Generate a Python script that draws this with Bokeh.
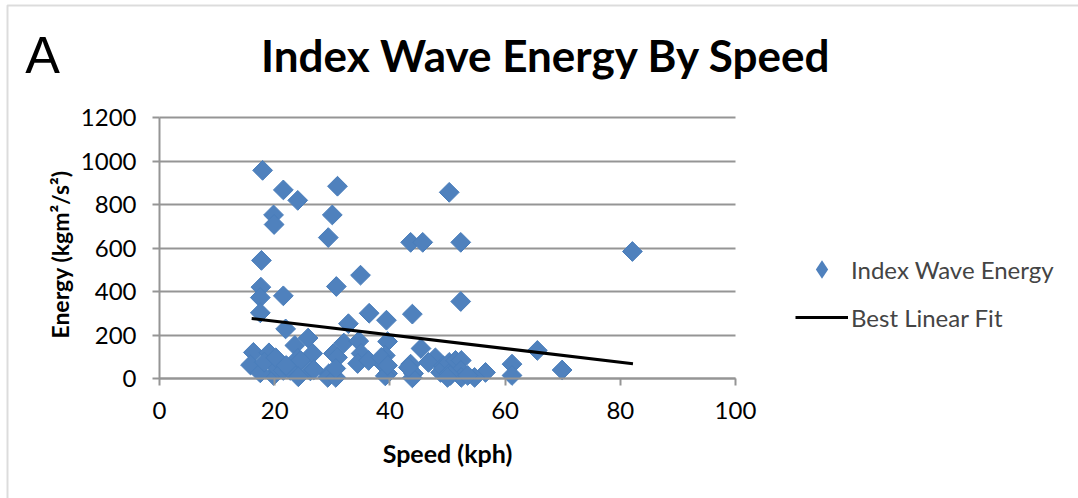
import numpy as np
from bokeh.plotting import figure
from bokeh.models import (FixedTicker, Label, Legend, LegendItem, BoxAnnotation, Range1d,
                          Grid, ColumnDataSource)
from bokeh.embed import file_html
from bokeh.resources import INLINE

# ---- data ----
speed_kph = [
    17.9, 21.5, 24.0, 19.8, 19.9, 17.7, 17.6, 17.5, 21.5, 17.5, 21.9,
    30.9, 30.0, 29.3, 30.7, 34.9, 50.3, 43.6, 45.7, 52.3, 52.3, 43.9,
    82.1, 36.4, 39.4, 32.8, 65.6, 69.9, 61.2, 61.2, 56.6, 54.7, 45.4,
    16.3, 15.8, 19.0, 19.8, 17.5, 18.2, 20.5, 21.5, 22.7, 23.5, 24.0,
    25.8, 26.6, 24.5, 26.2, 24.1, 30.2, 29.4, 30.9, 32.0, 29.2, 30.6,
    30.6, 26.8, 20.2, 22.0,
    34.6, 39.6, 35.0, 39.2, 34.4, 38.7, 39.6, 39.2, 43.6, 44.1, 43.9,
    43.2, 47.9, 46.7, 49.3, 48.8, 49.3, 50.3, 50.3, 51.4, 52.4, 52.3,
    52.4, 50.5, 53.5, 36.3, 38.5, 39.6, 50.0,
]
energy = [
    957, 867, 819, 752, 708, 543, 420, 372, 380, 302, 228,
    884, 752, 648, 423, 475, 856, 626, 626, 626, 354, 296,
    584, 300, 268, 252, 129, 39, 66, 14, 28, 5, 138,
    120, 62, 118, 14, 26, 75, 46, 37, 37, 152, 92,
    186, 115, 83, 35, 8, 115, 22, 97, 163, 5, 5,
    46, 40, 95, 60,
    172, 170, 115, 106, 69, 69, 23, 12, 66, 23, 3,
    51, 95, 74, 58, 28, 46, 74, 23, 83, 83, 37,
    5, 14, 14, 83, 97, 60, 5,
]
fit_speed = [16.0, 82.2]
fit_energy = [276, 68]

x_ticks = [0, 20, 40, 60, 80, 100]
y_ticks = [0, 200, 400, 600, 800, 1000, 1200]
x_min, x_max = 0, 100
y_min, y_max = 0, 1200

title_text = "Index Wave Energy By Speed"
panel_letter = "A"
x_label = "Speed (kph)"
y_label = "Energy (kgm\u00b2/s\u00b2)"
series_name = "Index Wave Energy"
fit_name = "Best Linear Fit"

# ---- layout (pixels in the 1078x498 canvas, from top-left) ----
W, H = 1078, 498
AX_LEFT, AX_RIGHT = 159, 735      # x_min / x_max positions
AX_TOP, AX_BOTTOM = 117, 378      # y_max / y_min positions

FONT = "Lato"
BLUE = "#4F81BD"
EDGE = "#4A7EBB"
GRID = "#959595"

# the frame covers the whole canvas; the plot area sits inside it via the ranges
ppx = (AX_RIGHT - AX_LEFT) / (x_max - x_min)
ppy = (AX_BOTTOM - AX_TOP) / (y_max - y_min)
xr = Range1d(x_min - AX_LEFT / ppx, x_max + (W - AX_RIGHT) / ppx)
yr = Range1d(y_min - (H - AX_BOTTOM) / ppy, y_max + AX_TOP / ppy)

p = figure(width=W, height=H, output_backend="svg", toolbar_location=None,
           x_range=xr, y_range=yr, min_border=0)
p.outline_line_color = None
p.background_fill_color = "white"
p.border_fill_color = "white"

# axes fixed at the data origin
for ax in (p.xaxis[0], p.yaxis[0]):
    ax.fixed_location = 0
    ax.axis_line_color = GRID
    ax.axis_line_width = 2
    ax.major_tick_line_color = GRID
    ax.major_tick_line_width = 2
    ax.major_tick_out = 7
    ax.major_tick_in = 0
    ax.minor_tick_line_color = None
    ax.major_label_text_font = FONT
    ax.major_label_text_font_size = "24px"
    ax.major_label_text_color = "black"
p.xaxis.bounds = (x_min, x_max)
p.yaxis.bounds = (y_min, y_max)
p.xaxis.ticker = FixedTicker(ticks=x_ticks)
p.yaxis.ticker = FixedTicker(ticks=y_ticks)
p.xaxis.major_label_standoff = 16
p.yaxis.major_label_standoff = 16

p.xgrid.visible = False
p.ygrid.grid_line_color = GRID
p.ygrid.grid_line_width = 2
p.ygrid.ticker = FixedTicker(ticks=y_ticks)
p.ygrid.bounds = (y_min, y_max)
if "cross_bounds" in Grid.properties():
    p.ygrid.cross_bounds = (x_min, x_max)
else:
    p.ygrid.visible = False
    p.segment(x0=x_min, x1=x_max, y0=y_ticks, y1=y_ticks,
              line_color=GRID, line_width=2, level="underlay")

# data
src = ColumnDataSource(data=dict(speed=speed_kph, energy=energy))
# legend key renderer: tiny diamonds at the same points, fully hidden under the main markers
legend_marker = p.scatter("speed", "energy", source=src, marker="diamond", size=4,
                          fill_color=BLUE, line_color=None)
sc = p.scatter("speed", "energy", source=src, marker="square", size=14, angle=np.pi / 4,
               fill_color=BLUE, line_color=EDGE, line_width=1)
ln = p.line(fit_speed, fit_energy, line_color="black", line_width=3)

legend = Legend(items=[LegendItem(label=series_name, renderers=[legend_marker]),
                       LegendItem(label=fit_name, renderers=[ln])],
                location=(795, H - 340), orientation="vertical",
                glyph_width=53, glyph_height=46, label_height=46,
                label_standoff=3, spacing=2, padding=0, margin=0,
                border_line_color=None, background_fill_alpha=0,
                label_text_font=FONT, label_text_font_size="24px")
p.add_layout(legend, "center")

def screen_label(x, y_from_top, text, **kw):
    p.add_layout(Label(x=x, y=H - y_from_top, x_units="screen", y_units="screen",
                       text=text, text_color="black", **kw))

screen_label(546, 54, title_text, text_font=FONT, text_font_style="bold",
             text_font_size="44px", text_align="center", text_baseline="alphabetic")
screen_label(42, 54, panel_letter, text_font="Liberation Sans", text_font_size="52px",
             text_align="center", text_baseline="alphabetic")
screen_label((AX_LEFT + AX_RIGHT) / 2, 452, x_label, text_font=FONT, text_font_style="bold",
             text_font_size="25px", text_align="center", text_baseline="middle")
screen_label(59, 254, y_label, text_font=FONT, text_font_style="bold",
             text_font_size="23px", text_align="center", text_baseline="middle",
             angle=np.pi / 2)

# outer chart border (right / bottom edges fall outside the window)
p.add_layout(BoxAnnotation(left=7, right=W + 20, bottom=-20, top=H - 5,
                           left_units="screen", right_units="screen",
                           bottom_units="screen", top_units="screen",
                           fill_alpha=0, line_color="#8c8c8c", line_width=2))

open("out.html", "w").write(file_html(p, INLINE))
